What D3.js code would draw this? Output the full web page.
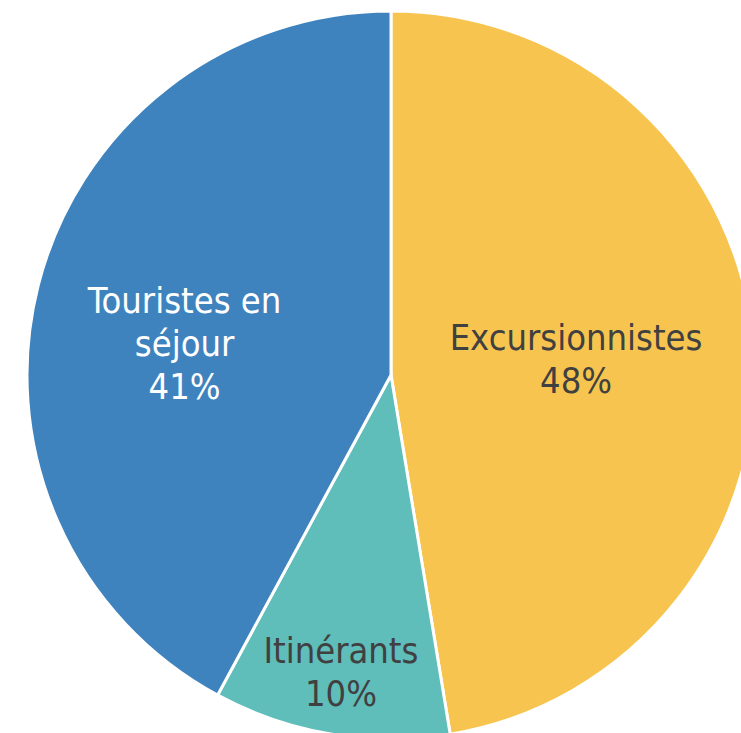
<!DOCTYPE html>
<html lang="fr">
<head>
    <meta charset="UTF-8">
    <title>Répartition des visiteurs</title>
    <script src="https://d3js.org/d3.v7.min.js"></script>
    <style>
        body { margin: 0; background: #fff; }
        svg { display: block; }
    </style>
</head>
<body>
    <div id="chart"></div>
    <script>
        var categories = ["Excursionnistes", "Itinérants", "Touristes en séjour"];
        var shares = [47.4, 10.5, 42.1];
        var percentLabels = ["48%", "10%", "41%"];
        var labelLines = [["Excursionnistes"], ["Itinérants"], ["Touristes en", "séjour"]];

        var colors = ["#f7c44f", "#5fbdba", "#3f83be"];
        var textColors = ["#404040", "#404040", "#ffffff"];

        var width = 741;
        var height = 733;
        var cx = 391, cy = 375, radius = 364;

        var svg = d3.select("#chart").append("svg")
            .attr("width", width)
            .attr("height", height);

        var g = svg.append("g")
            .attr("transform", "translate(" + cx + "," + cy + ")");

        var pie = d3.pie()
            .sort(null)
            .value(function(d) { return d; });

        var arcs = pie(shares);

        var arc = d3.arc()
            .innerRadius(0)
            .outerRadius(radius);

        g.selectAll("path")
            .data(arcs)
            .enter().append("path")
            .attr("d", arc)
            .attr("fill", function(d, i) { return colors[i]; })
            .attr("stroke", "#fff")
            .attr("stroke-width", 3)
            .attr("stroke-linejoin", "miter");

        // label placement (fraction of radius, vertical nudge)
        var labelPos = [
            { r: 0.51, dy: -1 },
            { r: 0.83, dy: -1 },
            { r: 0.585, dy: 20 }
        ];
        var lineHeight = 43;
        var fontSize = 36;

        var labels = g.selectAll("text.label")
            .data(arcs)
            .enter().append("text")
            .attr("class", "label")
            .attr("text-anchor", "middle")
            .attr("font-family", "'DejaVu Sans Condensed', 'DejaVu Sans', sans-serif")
            .attr("font-size", fontSize)
            .attr("fill", function(d, i) { return textColors[i]; })
            .attr("transform", function(d, i) {
                var r = radius * labelPos[i].r;
                var c = d3.arc().innerRadius(r).outerRadius(r).centroid(d);
                return "translate(" + c[0] + "," + (c[1] + labelPos[i].dy) + ")";
            });

        labels.each(function(d, i) {
            var lines = labelLines[i].concat([percentLabels[i]]);
            var t = d3.select(this);
            var startY = -(lines.length - 1) * lineHeight / 2 + fontSize * 0.36;
            lines.forEach(function(line, k) {
                t.append("tspan")
                    .attr("x", 0)
                    .attr("y", startY + k * lineHeight)
                    .text(line);
            });
        });
    </script>
</body>
</html>
